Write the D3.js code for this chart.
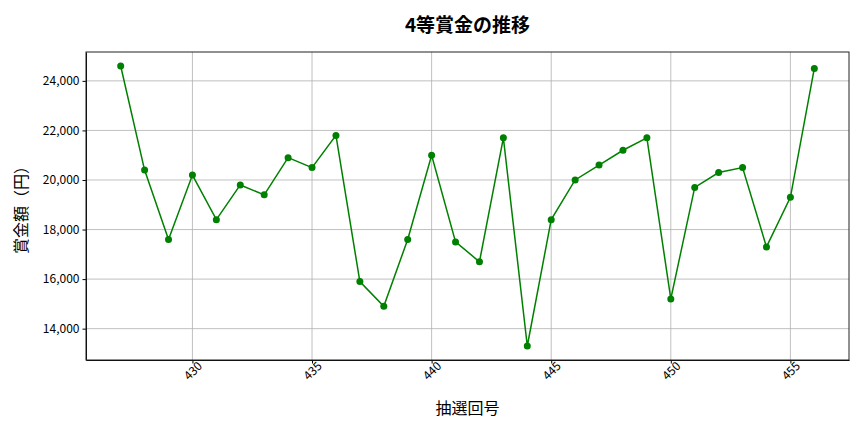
<!DOCTYPE html>
<html>
<head>
<meta charset="utf-8">
<script src="https://cdn.jsdelivr.net/npm/d3@7"></script>
<style>
  body { margin: 0; background: #fff; }
  svg, svg text { font-family: "Noto Sans CJK JP", "Noto Sans", sans-serif; }
  .grid line { stroke: #b0b0b0; stroke-width: 0.8; }
  .axis text { font-size: 12px; fill: #000; }
  .axis line, .axis path { stroke: #000; }
</style>
</head>
<body>
<svg id="chart" width="864" height="432"></svg>
<script>
// 抽選回号と4等賞金
var kaigo = [427, 428, 429, 430, 431, 432, 433, 434, 435, 436,
             437, 438, 439, 440, 441, 442, 443, 444, 445, 446,
             447, 448, 449, 450, 451, 452, 453, 454, 455, 456];
var shokin = [24600, 20400, 17600, 20200, 18400, 19800, 19400, 20900, 20500, 21800,
              15900, 14900, 17600, 21000, 17500, 16700, 21700, 13300, 18400, 20000,
              20600, 21200, 21700, 15200, 19700, 20300, 20500, 17300, 19300, 24500];
var xTicks = [430, 435, 440, 445, 450, 455];
var yTicks = [14000, 16000, 18000, 20000, 22000, 24000];

var svg = d3.select("#chart"),
    margin = {top: 52, right: 15, bottom: 72, left: 86},
    width = 864 - margin.left - margin.right,
    height = 432 - margin.top - margin.bottom;

var g = svg.append("g").attr("transform", "translate(" + margin.left + "," + margin.top + ")");

// matplotlib風の5%マージン
var xPad = (d3.max(kaigo) - d3.min(kaigo)) * 0.05;
var yPad = (d3.max(shokin) - d3.min(shokin)) * 0.05;

var x = d3.scaleLinear()
    .domain([d3.min(kaigo) - xPad, d3.max(kaigo) + xPad])
    .range([0, width]);

var y = d3.scaleLinear()
    .domain([d3.min(shokin) - yPad, d3.max(shokin) + yPad])
    .range([height, 0]);

// グリッド
g.append("g").attr("class", "grid")
  .selectAll("line.v").data(xTicks).enter().append("line")
    .attr("x1", function(d) { return x(d); })
    .attr("x2", function(d) { return x(d); })
    .attr("y1", 0).attr("y2", height);

g.append("g").attr("class", "grid")
  .selectAll("line.h").data(yTicks).enter().append("line")
    .attr("x1", 0).attr("x2", width)
    .attr("y1", function(d) { return y(d); })
    .attr("y2", function(d) { return y(d); });

// 軸
var xAxis = g.append("g")
    .attr("class", "axis")
    .attr("transform", "translate(0," + height + ")")
    .call(d3.axisBottom(x).tickValues(xTicks).tickSize(3.5).tickSizeOuter(0).tickFormat(d3.format("d")));
xAxis.attr("font-family", null);

xAxis.selectAll("text")
    .attr("text-anchor", "end")
    .attr("dx", "0.2em")
    .attr("dy", "0.45em")
    .attr("transform", "rotate(-45)");

var yAxis = g.append("g")
    .attr("class", "axis")
    .call(d3.axisLeft(y).tickValues(yTicks).tickSize(3.5).tickSizeOuter(0).tickFormat(d3.format(",")));
yAxis.attr("font-family", null);

// 枠
g.append("rect")
    .attr("width", width).attr("height", height)
    .attr("fill", "none").attr("stroke", "#222").attr("stroke-width", 1);

// 折れ線
var line = d3.line()
    .x(function(d, i) { return x(kaigo[i]); })
    .y(function(d) { return y(d); });

g.append("path")
    .datum(shokin)
    .attr("fill", "none")
    .attr("stroke", "green")
    .attr("stroke-width", 1.5)
    .attr("d", line);

g.selectAll("circle").data(shokin).enter().append("circle")
    .attr("cx", function(d, i) { return x(kaigo[i]); })
    .attr("cy", function(d) { return y(d); })
    .attr("r", 3.5)
    .attr("fill", "green");

// タイトル・ラベル
svg.append("text")
    .attr("x", margin.left + width / 2).attr("y", 32)
    .attr("text-anchor", "middle")
    .attr("font-size", 19).attr("font-weight", "bold")
    .text("4等賞金の推移");

svg.append("text")
    .attr("x", margin.left + width / 2).attr("y", 414)
    .attr("text-anchor", "middle")
    .attr("font-size", 16)
    .text("抽選回号");

svg.append("text")
    .attr("transform", "translate(27," + (margin.top + height / 2) + ") rotate(-90)")
    .attr("text-anchor", "middle")
    .attr("font-size", 16)
    .text("賞金額（円）");
</script>
</body>
</html>
